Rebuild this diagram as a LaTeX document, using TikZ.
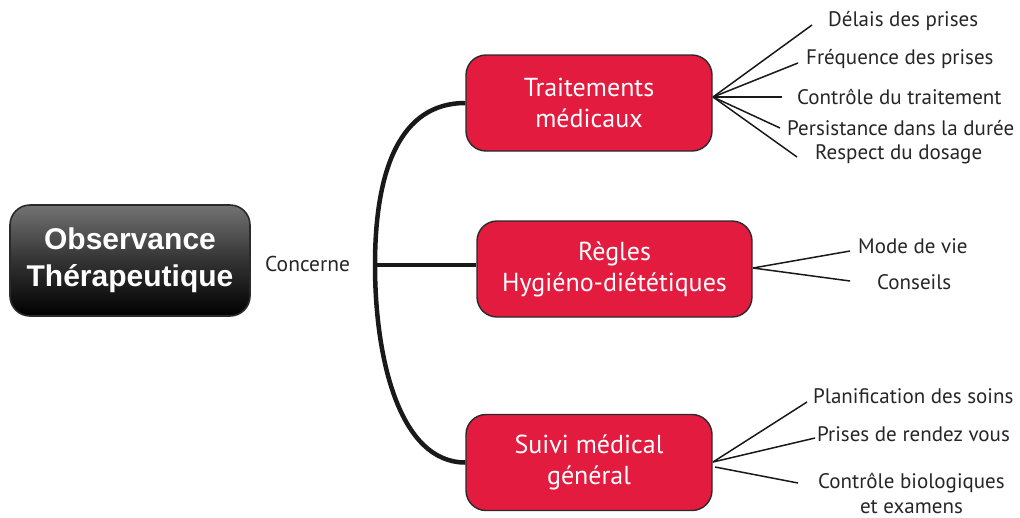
\documentclass[tikz,border=0pt]{standalone}
\usepackage{fontspec}
\setmainfont{PT Sans}
\newfontfamily\titlefont{Liberation Sans}
\definecolor{boxred}{HTML}{E31B3F}
\definecolor{edgegray}{HTML}{2A2A2A}
\begin{document}
\begin{tikzpicture}[x=1pt,y=-1pt,
  mainbox/.style={rounded corners=20pt, draw=edgegray, line width=1.6pt,
    top color=black!55, bottom color=black, middle color=black!80,
    minimum width=240pt, minimum height=111pt, align=center, text=white,
    font=\titlefont\bfseries\fontsize{30}{37}\selectfont, inner sep=0pt},
  redbox/.style={rounded corners=20pt, draw=edgegray, line width=1.4pt, fill=boxred,
    minimum height=96pt, align=center, text=white, inner sep=0pt,
    font=\fontsize{26}{31}\selectfont},
  leaf/.style={anchor=west, inner sep=0pt, font=\fontsize{21}{25}\selectfont, text=black!85},
  brace/.style={line width=4.5pt, draw=black!90},
  twig/.style={line width=1.5pt, draw=black!90}
]
\useasboundingbox (0,0) rectangle (1020,517);
\node[mainbox] (main) at (130,260.5) {Observance\\Thérapeutique};
\node[leaf, font=\fontsize{21.5}{25}\selectfont] (concerne) at (265,264) {Concerne};

\node[redbox, minimum width=246pt] (b1) at (589,103) {Traitements\\médicaux};
\node[redbox, minimum width=275pt] (b2) at (614.5,269) {Règles\\Hygiéno-diététiques};
\node[redbox, minimum width=246pt] (b3) at (589,462.5) {Suivi médical\\général};

\coordinate (v) at (375,265);
\draw[brace] (b1.west) .. controls (400,103) and (375,170) .. (v)
  .. controls (375,360) and (400,462.5) .. (b3.west);
\draw[brace] (v) -- (b2.west |- v);

% leaves of box 1
\node[leaf] (l11) at (828,21) {Délais des prises};
\node[leaf] (l12) at (806,59) {Fréquence des prises};
\node[leaf] (l13) at (797,97) {Contrôle du traitement};
\node[leaf] (l14) at (787,128) {Persistance dans la durée};
\node[leaf] (l15) at (815,154) {Respect du dosage};
\coordinate (o1) at (713,97);
\coordinate (e11) at (812,25);
\coordinate (e12) at (798,63);
\coordinate (e13) at (782,97);
\coordinate (e14) at (780,128);
\coordinate (e15) at (797,157);
\foreach \e in {e11,e12,e13,e14,e15} \draw[twig] (o1) -- (\e);

% leaves of box 2
\node[leaf] (l21) at (858,246) {Mode de vie};
\node[leaf] (l22) at (877,282) {Conseils};
\coordinate (o2) at (753,268);
\coordinate (e21) at (850,251);
\coordinate (e22) at (850,281);
\foreach \e in {e21,e22} \draw[twig] (o2) -- (\e);

% leaves of box 3
\node[leaf] (l31) at (813,396) {Planification des soins};
\node[leaf] (l32) at (817,434) {Prises de rendez vous};
\node[leaf, align=center] (l33) at (818,493) {Contrôle biologiques\\et examens};
\coordinate (o3) at (713,462);
\coordinate (o3b) at (715,467);
\coordinate (e31) at (807,402);
\coordinate (e32) at (815,438);
\coordinate (e33) at (798,483);
\draw[twig] (o3) -- (e31);
\draw[twig] (o3) -- (e32);
\draw[twig] (o3b) -- (e33);
\end{tikzpicture}
\end{document}
